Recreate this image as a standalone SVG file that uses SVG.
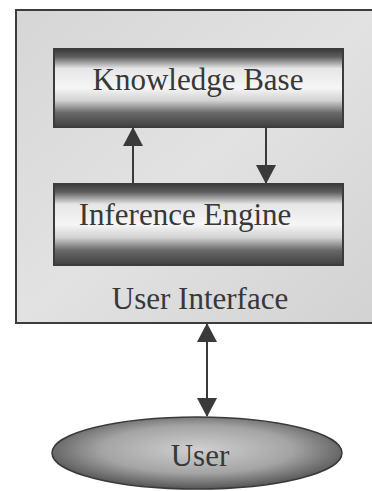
<svg xmlns="http://www.w3.org/2000/svg" width="372" height="491" viewBox="0 0 372 491">
<style>
text{font-family:"Liberation Serif","Times New Roman",serif;fill:#383838;text-anchor:middle}
.lbl{font-size:31px}
.box{stroke:#3c3c3c;stroke-width:2}
.conn{stroke:#3a3a3a;stroke-width:2;fill:none}
</style>
<defs>
<linearGradient id="bar" x1="0" y1="0" x2="0" y2="1">
<stop offset="0" stop-color="#3a3a3a"/>
<stop offset="0.1" stop-color="#5e5e5e"/>
<stop offset="0.25" stop-color="#e6e6e6"/>
<stop offset="0.5" stop-color="#f6f6f6"/>
<stop offset="0.66" stop-color="#d2d2d2"/>
<stop offset="0.82" stop-color="#686868"/>
<stop offset="1" stop-color="#404040"/>
</linearGradient>
<radialGradient id="oval" cx="0.5" cy="0.45" r="0.55">
<stop offset="0" stop-color="#d0d0d0"/>
<stop offset="0.6" stop-color="#a4a4a4"/>
<stop offset="1" stop-color="#555555"/>
</radialGradient>
<linearGradient id="panel" x1="0" y1="0" x2="1" y2="1">
<stop offset="0" stop-color="#d6d6d6"/>
<stop offset="0.5" stop-color="#e2e2e2"/>
<stop offset="1" stop-color="#d2d2d2"/>
</linearGradient>
<marker id="ah2" markerWidth="20" markerHeight="20" refX="18" refY="10" orient="auto-start-reverse" markerUnits="userSpaceOnUse" viewBox="0 0 20 20">
<path d="M0,0 L19,10 L0,20 Z" fill="#3a3a3a"/>
</marker>
</defs>
<rect width="372" height="491" fill="#ffffff"/>
<g id="user-interface">
<rect x="16" y="10" width="362" height="313" fill="url(#panel)" class="box"/>
<text class="lbl" x="200" y="309">User Interface</text>
</g>
<g id="knowledge-base">
<rect x="54" y="49" width="289" height="78" fill="url(#bar)" class="box"/>
<text class="lbl" x="198" y="90">Knowledge Base</text>
</g>
<g id="inference-engine">
<rect x="54" y="184" width="289" height="81" fill="url(#bar)" class="box"/>
<text class="lbl" x="185" y="225">Inference Engine</text>
</g>
<g id="user">
<ellipse cx="197" cy="453" rx="145" ry="36" fill="url(#oval)" stroke="#3a3a3a" stroke-width="1.5"/>
<text class="lbl" x="200" y="466">User</text>
</g>
<g id="connectors">
<line class="conn" x1="133" y1="184" x2="133" y2="128" marker-end="url(#ah2)"/>
<line class="conn" x1="266" y1="127" x2="266" y2="183" marker-end="url(#ah2)"/>
<line class="conn" x1="207" y1="324" x2="207" y2="416" marker-start="url(#ah2)" marker-end="url(#ah2)"/>
</g>
</svg>
